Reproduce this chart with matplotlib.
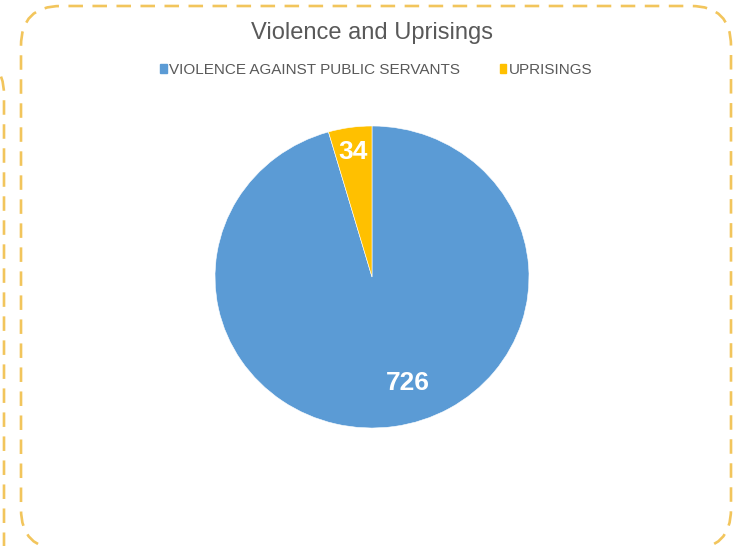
import matplotlib
matplotlib.use("Agg")
from matplotlib import pyplot as plt
from matplotlib.patches import FancyBboxPatch

plt.rcParams['font.family'] = ['Liberation Sans', 'DejaVu Sans']

title = "Violence and Uprisings"
categories = ["VIOLENCE AGAINST PUBLIC SERVANTS", "UPRISINGS"]
values = [726, 34]
colors = ["#5B9BD5", "#FFC000"]

W, H = 744, 546
fig = plt.figure(figsize=(W / 100, H / 100), dpi=100)

# background layer in pixel coordinates (y up) for the dashed frames
bg = fig.add_axes([0, 0, 1, 1])
bg.set_xlim(0, W)
bg.set_ylim(0, H)
bg.axis("off")
frame_col = "#F2C55C"
# boxes given as (left, top, right, bottom) in image pixels
for x0, y0, x1, y1 in [(21, 6, 731, 549), (-300, 55, 4, 700)]:
    bg.add_patch(FancyBboxPatch((x0, H - y1), x1 - x0, y1 - y0,
                                boxstyle="round,pad=0,rounding_size=40",
                                fill=False, edgecolor=frame_col, lw=1.9,
                                linestyle=(0, (5.5, 3.6))))

fig.text(372 / W, 1 - 33 / H, title, ha="center", va="center",
         fontsize=17, color="#595959")

# pie drawn in its own axes (slightly wider than tall, as in the original)
ax = fig.add_axes([215 / W, (H - 428) / H, 314 / W, 302 / H])
wedges, texts = ax.pie(values, colors=colors, startangle=90, counterclock=False,
                       labels=[str(v) for v in values], labeldistance=0.72,
                       wedgeprops=dict(edgecolor="white", linewidth=0.4),
                       textprops=dict(color="white", fontsize=19, fontweight="bold",
                                      ha="center", va="center"))
ax.set_aspect("auto")
ax.set_xlim(-1, 1)
ax.set_ylim(-1, 1)
texts[0].set_position((0.229, -0.70))
texts[1].set_position((-0.12, 0.83))

handles = [plt.Rectangle((0, 0), 1, 1, color=c) for c in colors]
fig.legend(handles, categories, loc="center", bbox_to_anchor=(376 / W, 1 - 70 / H),
           ncol=2, frameon=False, fontsize=11, labelcolor="#595959",
           handlelength=0.45, handleheight=0.45, handletextpad=0.15,
           columnspacing=2.6)

fig.savefig("out.png", dpi=100)
